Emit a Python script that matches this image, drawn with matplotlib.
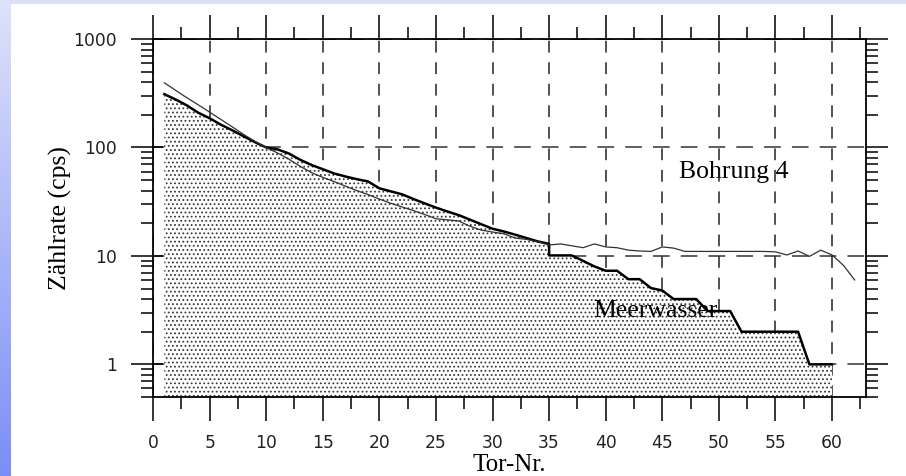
import numpy as np
import matplotlib
matplotlib.use("Agg")
import matplotlib.pyplot as plt
from matplotlib.colors import LinearSegmentedColormap
from matplotlib.patches import Rectangle
from matplotlib.ticker import MultipleLocator, LogLocator, FixedLocator, FixedFormatter, NullFormatter

plt.rcParams["lines.scale_dashes"] = False
plt.rcParams["hatch.linewidth"] = 0.8
plt.rcParams["hatch.color"] = "#3a3a3a"

# ---------------- data ----------------
gate_meer = list(range(1, 36)) + list(range(35, 61))
meer = [310, 277, 244, 209, 186, 162, 144, 127, 112, 100,
        96, 88, 77, 69, 63, 57.6, 54, 51, 48.6, 42,
        39.4, 37, 33.5, 30.5, 27.9, 25.7, 23.8, 21.6, 19.6, 17.8,
        16.8, 15.7, 14.6, 13.6, 12.9,
        10.1, 10.1, 10.1, 9.0, 8.0, 7.3, 7.3, 6.1, 6.1, 5.05,
        4.8, 4.0, 4.0, 4.0, 3.1, 3.1, 3.1, 2.0, 2.0, 2.0,
        2.0, 2.0, 2.0, 1.0, 1.0, 1.0]

gate_bohr = list(range(1, 63))
bohr = [395, 336, 287, 247, 212, 181, 155, 132, 114, 99.5,
        89, 78, 67, 58.6, 53, 48.5, 44, 40, 36.8, 33.4,
        30.6, 28.3, 26.2, 24.1, 22, 21.5, 21, 18.8, 17.3, 16.6,
        16.0, 14.6, 14.2, 13.5, 12.6, 12.9, 12.4, 11.9, 12.9, 12.1,
        11.9, 11.3, 11.1, 11.0, 12.1, 11.8, 11.0, 11.0, 11.0, 11.0,
        11.0, 11.0, 11.0, 11.0, 10.9, 10.2, 11.1, 9.9, 11.3, 10.2,
        8.2, 6.0]

x_major = list(range(0, 61, 5))
x_tick_labels = [str(v) for v in x_major]
y_major = [1, 10, 100, 1000]
y_tick_labels = ["1", "10", "100", "1000"]
X_LIM = (0, 63)
Y_LIM = (0.5, 1000)

label_bohr = ("Bohrung 4", 51.3, 60)
label_meer = ("Meerwasser", 44.4, 3.1)

# ---------------- figure ----------------
fig = plt.figure(figsize=(9.06, 4.76), dpi=100)
fig.patch.set_facecolor("white")

# decorative slide border (blue gradient strip left, lavender strip top)
bg = fig.add_axes([0, 0, 1, 1], zorder=-10)
bg.axis("off")
bg.set_xlim(0, 906)
bg.set_ylim(476, 0)
grad = np.linspace(0, 1, 256).reshape(-1, 1)
cmap = LinearSegmentedColormap.from_list("b", ["#dfe2fa", "#7b8ef7"])
bg.imshow(grad, cmap=cmap, extent=[0, 11, 476, 0], aspect="auto")
bg.add_patch(Rectangle((0, 0), 906, 4, color="#dde0f9", lw=0))

ax_rect = [153 / 906, 1 - 397 / 476, (866 - 153) / 906, (397 - 39) / 476]
ax = fig.add_axes(ax_rect)
ax.set_yscale("log")
ax.set_xlim(*X_LIM)
ax.set_ylim(*Y_LIM)
ax.set_axisbelow(True)

serif = "Liberation Serif"
sans = "DejaVu Sans"

# fill (stippled) under the Meerwasser curve
ax.fill_between(gate_meer, meer, Y_LIM[0], facecolor="white",
                edgecolor="#3a3a3a", linewidth=0, hatch="....", zorder=1)
ax.plot(gate_meer, meer, color="black", lw=1.8, zorder=3)
ax.plot(gate_bohr, bohr, color="#333333", lw=0.9, zorder=3)

# grid
ax.xaxis.grid(True, which="major", linestyle=(0, (8.5, 7.0)), color="#222222", lw=1.1)
ax.yaxis.grid(True, which="major", linestyle=(0, (12.0, 8.0)), color="#333333", lw=1.1)

# ticks
ax.xaxis.set_major_locator(FixedLocator(x_major))
ax.xaxis.set_major_formatter(FixedFormatter(x_tick_labels))
ax.xaxis.set_minor_locator(MultipleLocator(2.5))
ax.yaxis.set_major_locator(FixedLocator(y_major))
ax.yaxis.set_major_formatter(FixedFormatter(y_tick_labels))
ax.yaxis.set_minor_locator(LogLocator(base=10, subs=np.arange(2, 10), numticks=50))
ax.yaxis.set_minor_formatter(NullFormatter())

ax.tick_params(which="major", direction="out", length=17, width=1.1, color="black",
               top=True, right=True, labeltop=False, labelright=False,
               labelsize=12.3, labelcolor="#222222", pad=10)
ax.tick_params(which="minor", direction="out", length=8.5, width=1.1, color="black",
               top=True, right=True)
ax.tick_params(axis="y", which="major", length=16)
for lab in ax.get_xticklabels() + ax.get_yticklabels():
    lab.set_fontfamily(sans)
for sp in ax.spines.values():
    sp.set_linewidth(1.3)
    sp.set_color("black")

# inward part of left major ticks
ax2 = fig.add_axes(ax_rect, sharex=ax, sharey=ax)
ax2.patch.set_visible(False)
for sp in ax2.spines.values():
    sp.set_visible(False)
ax2.tick_params(axis="y", which="major", direction="in", length=7.5, width=1.1,
                left=True, right=False, labelleft=False)
ax2.tick_params(axis="y", which="minor", left=False, right=False)
ax2.tick_params(axis="x", which="both", bottom=False, top=False, labelbottom=False)
ax2.grid(False)

# labels
ax.set_ylabel("Zählrate (cps)", fontfamily=serif, fontsize=18.5)
ax.yaxis.set_label_coords(-0.114, 0.5)
ax.set_xlabel("Tor-Nr.", fontfamily=serif, fontsize=18)
ax.xaxis.set_label_coords(0.5, -0.158)

ax.text(label_bohr[1], label_bohr[2], label_bohr[0], fontfamily=serif, fontsize=18.5,
        ha="center", va="center", zorder=0.4)
ax.text(label_meer[1], label_meer[2], label_meer[0], fontfamily=serif, fontsize=18.5,
        ha="center", va="center", zorder=2.5)

fig.savefig("out.png", dpi=100)
